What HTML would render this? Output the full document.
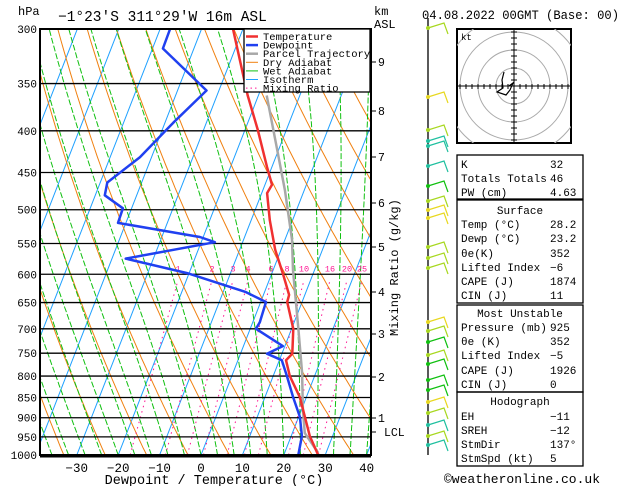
<!DOCTYPE html>
<html><head><meta charset="utf-8"><style>
body{margin:0;background:#fff;}
svg{display:block;font-family:"Liberation Mono","DejaVu Sans Mono",monospace;}
</style></head><body>
<svg id="c" width="629" height="486" viewBox="0 0 629 486" xmlns="http://www.w3.org/2000/svg">
<defs><clipPath id="plotclip"><rect x="40" y="29" width="331" height="426"/></clipPath>
<clipPath id="hodoclip"><rect x="457" y="29" width="114" height="114"/></clipPath></defs>
<rect width="629" height="486" fill="#fff"/>
<g id="bg" clip-path="url(#plotclip)"></g>
<g id="iso"></g>
<g id="prof" clip-path="url(#plotclip)"></g>
<g id="axes"></g>
<text x="18" y="15" font-size="12">hPa</text>
<text x="58" y="21" font-size="14.5">−1°23'S 311°29'W 16m ASL</text>
<text x="374" y="15" font-size="12">km</text>
<text x="374" y="28" font-size="12">ASL</text>
<text x="422" y="19" font-size="13" textLength="197" lengthAdjust="spacingAndGlyphs">04.08.2022 00GMT (Base: 00)</text>
<text x="0" y="0" font-size="12" transform="translate(398,336) rotate(-90)">Mixing Ratio (g/kg)</text>
<text x="214" y="484" font-size="13.5" text-anchor="middle">Dewpoint / Temperature (°C)</text>
<g id="legend"></g>
<g id="barbs"></g>
<g id="hodo"></g>
<g id="table"></g>
<text x="522" y="483" font-size="13" text-anchor="middle">©weatheronline.co.uk</text>
<script>
const tempP=[1000,948,898,849,800,765,751,700,649,636,600,560,515,477,466,443,399,362,300];
const tempT=[28.3,24.5,21.5,18.4,14.0,11.6,12.5,10.4,6.4,6.2,2.8,-1.4,-5.5,-8.7,-8.3,-11.2,-16.9,-22.6,-32.4];
const dewP=[1000,948,898,849,800,765,751,735,700,687,649,631,598,574,548,540,519,498,480,463,431,391,357,317,300];
const dewT=[23.5,22.6,20.3,16.8,13.3,10.6,6.4,9.5,1.4,1.7,1.3,-4.5,-20.5,-36.7,-16.7,-20.8,-41.9,-42.1,-47.7,-48.3,-42.8,-38.0,-33.0,-47.5,-47.6];
const parcelP=[994,940,881,793,696,593,544,473,419,362];
const parcelT=[28.1,23.0,20.4,16.7,11.4,4.8,1.7,-4.7,-10.7,-18.0];
const isobars=[300,350,400,450,500,550,600,650,700,750,800,850,900,950,1000];
const xTicks=[-30,-20,-10,0,10,20,30,40];
const kmLabels=["9","8","7","6","5","4","3","2","1"];
const kmHeights=[9,8,7,6,5,4,3,2,1];
const mixRatios=[1,2,3,4,6,8,10,16,20,25];
const NS="http://www.w3.org/2000/svg";
const Y0=455,PX=426/Math.log(1000/300);
function yP(p){return Y0-PX*Math.log(1000/p);}
function xT(t,p){return 201+4.14*t+0.39*(Y0-yP(p));}
function mk(tag,attrs,parent){const e=document.createElementNS(NS,tag);for(const k in attrs)e.setAttribute(k,attrs[k]);parent.appendChild(e);return e;}
const bg=document.getElementById('bg'),iso=document.getElementById('iso'),prof=document.getElementById('prof'),axes=document.getElementById('axes');
function line(pts,stroke,w,dash,parent){const el=mk('polyline',{points:pts.map(q=>q[0].toFixed(1)+','+q[1].toFixed(1)).join(' '),fill:'none',stroke:stroke,'stroke-width':w},parent);if(dash)el.setAttribute('stroke-dasharray',dash);return el;}
for(let t=-130;t<=40;t+=10){const el=line([[xT(t,1000),yP(1000)],[xT(t,290),yP(290)]],'#1ea0ff',1,null,bg);

}
for(let th=230;th<=480;th+=10){const pts=[];for(let p=1000;p>=290;p-=10){pts.push([xT(th*Math.pow(p/1000,0.286)-273.15,p),yP(p)]);}const el=line(pts,'#f08010',1,null,bg);

}
function es(t){return 6.112*Math.exp(17.67*t/(t+243.5));}
for(let t0=-36;t0<=40;t0+=4){let t=t0;const pts=[[xT(t,1000),yP(1000)]];for(let p=1000;p>290;p-=5){const tk=t+273.15,e=es(t),ws=0.622*e/(p-e);const d=(287*tk+2.5e6*ws)/(p*(1004+2.5e6*2.5e6*ws*0.622/(287*tk*tk)));t-=d*5;pts.push([xT(t,p-5),yP(p-5)]);}
const el=line(pts,'#10c010',1,'6,2',bg);

}
// mixing ratio lines: bottom from physics, top at label column of the original chart
const mixTopX=[178,212,233,248,271,287,304,330,347,362];
mixRatios.forEach((w,i)=>{const e=w*1000/(622+w),l=Math.log(e/6.112),t=243.5*l/(17.67-l);const x0=xT(t,1000),x1=mixTopX[i];
const el=line([[x0,yP(1000)],[x1,yP(610)]],'#ff1493',1,'1.5,4',bg);


const tx=mk('text',{x:x1,y:(yP(600)-3).toFixed(1),'font-size':'8.5',fill:'#ff1493','text-anchor':'middle'},bg);tx.textContent=w;

});
isobars.forEach(p=>{const y=yP(p);const l=mk('line',{x1:40,x2:371,y1:y,y2:y,stroke:'#000','stroke-width':1.3},iso);


const t=mk('text',{x:37,y:y+4,'font-size':'11','text-anchor':'end'},iso);t.textContent=p;

});
function prfl(P,T,c,w,name){const el=line(P.map((p,i)=>[xT(T[i],p),yP(p)]),c,w,null,prof);el.setAttribute('stroke-linejoin','round');

}
prfl(parcelP,parcelT,'#a8a8a8',2.5,'parcel-trajectory');
prfl(tempP,tempT,'#f03030',2.5,'temperature-line');
prfl(dewP,dewT,'#2040f0',2.5,'dewpoint-line');
mk('rect',{x:40,y:29,width:331,height:426,fill:'none',stroke:'#000','stroke-width':2},axes);
mk('line',{x1:40,x2:371,y1:456,y2:456,stroke:'#000','stroke-width':3},axes);
xTicks.forEach(v=>{const x=201+4.14*v;const t=mk('text',{x:x,y:472,'font-size':'12.5','text-anchor':'middle'},axes);t.textContent=(v<0?'−':'')+Math.abs(v);

});
const kmY=[62,111,157,203,247,292,334,377,418];
kmHeights.forEach((h,i)=>{const y=kmY[i];mk('line',{x1:371,x2:376,y1:y,y2:y,stroke:'#000'},axes);const t=mk('text',{x:378,y:y+4,'font-size':'11.5'},axes);t.textContent=kmLabels[i];

});
mk('line',{x1:371,x2:376,y1:432,y2:432,stroke:'#000'},axes);
{const t=mk('text',{x:384,y:436,'font-size':'11.5'},axes);t.textContent='LCL';

}
const lg=document.getElementById('legend');
mk('rect',{x:244,y:29,width:126,height:63,fill:'#fff',stroke:'#000','stroke-width':1.3},lg);
const legN=['Temperature','Dewpoint','Parcel Trajectory','Dry Adiabat','Wet Adiabat','Isotherm','Mixing Ratio'];
const legC=['#f03030','#2040f0','#a8a8a8','#f08010','#10c010','#1ea0ff','#ff1493'];
const legW=[2.5,2.5,2.5,1,1,1,1];
legN.forEach((n,i)=>{const y=36.5+i*8.6;const l=mk('line',{x1:246,x2:258,y1:y,y2:y,stroke:legC[i],'stroke-width':legW[i]},lg);if(i==6)l.setAttribute('stroke-dasharray','1.5,3');
const t=mk('text',{x:263,y:y+3.5,'font-size':'10.5'},lg);t.textContent=n;

});
const bb=document.getElementById('barbs');
mk('line',{x1:428,x2:428,y1:18,y2:455,stroke:'#000','stroke-width':1.3},bb);
const barbY=[28,97,130,141,146,166,186,201,210,218,247,258,268,322,331,342,355,364,380,390,402,413,425,436,445];
const barbC=['#a8d820','#e8d820','#a8d820','#20c0a0','#20c0a0','#20c0a0','#10c010','#a8d820','#e8d820','#e8d820','#a8d820','#a8d820','#a8d820','#e8d820','#a8d820','#10c010','#a8d820','#10c010','#10c010','#10c010','#e8d820','#a8d820','#20c0a0','#a8d820','#20c0a0'];
barbY.forEach((y,i)=>{const c=barbC[i];mk('circle',{cx:428,cy:y,r:2,fill:c},bb);
const pl=mk('polyline',{points:`428,${y} 444,${y-5} 448,${y+6}`,fill:'none',stroke:c,'stroke-width':1.2},bb);

});
const hg=document.getElementById('hodo');
mk('rect',{x:457,y:29,width:114,height:114,fill:'#fff',stroke:'#000','stroke-width':2},hg);
const hc=mk('g',{'clip-path':'url(#hodoclip)'},hg);
[18,36,54,70].forEach(r=>mk('circle',{cx:514,cy:86,r:r,fill:'none',stroke:'#aaa','stroke-width':1},hc));
mk('line',{x1:457,x2:571,y1:86,y2:86,stroke:'#000'},hg);mk('line',{x1:514,x2:514,y1:29,y2:143,stroke:'#000'},hg);
for(let d=-54;d<=54;d+=6){mk('line',{x1:514+d,x2:514+d,y1:84,y2:89,stroke:'#000'},hg);mk('line',{x1:511,x2:517,y1:86+d,y2:86+d,stroke:'#000'},hg);}
{const t=mk('text',{x:461,y:40,'font-size':'9'},hg);t.textContent='kt';}
mk('polyline',{points:'504,72 502,80 503,88 497,92 506,95 510,90 513,83 509,86',fill:'none',stroke:'#000','stroke-width':1.2},hg);
const tb=document.getElementById('table');
[[155,199],[200,303],[305,392],[392,466]].forEach(s=>mk('rect',{x:457,y:s[0],width:126,height:s[1]-s[0],fill:'none',stroke:'#000','stroke-width':1.3},tb));
const rows=[['K','32',164],['Totals Totals','46',178],['PW (cm)','4.63',192],['Temp (°C)','28.2',224],['Dewp (°C)','23.2',238],['θe(K)','352',253],['Lifted Index','−6',267],['CAPE (J)','1874',281],['CIN (J)','11',295],['Pressure (mb)','925',327],['θe (K)','352',341],['Lifted Index','−5',355],['CAPE (J)','1926',370],['CIN (J)','0',384],['EH','−11',416],['SREH','−12',430],['StmDir','137°',444],['StmSpd (kt)','5',458]];
rows.forEach(r=>{const a=mk('text',{x:461,y:r[2]+4,'font-size':'11'},tb);a.textContent=r[0];


const b=mk('text',{x:550,y:r[2]+4,'font-size':'11'},tb);b.textContent=r[1];

});
[['Surface',210],['Most Unstable',313],['Hodograph',401]].forEach(h=>{const t=mk('text',{x:520,y:h[1]+4,'font-size':'11','text-anchor':'middle'},tb);t.textContent=h[0];

});
</script>
</svg>
</body></html>
